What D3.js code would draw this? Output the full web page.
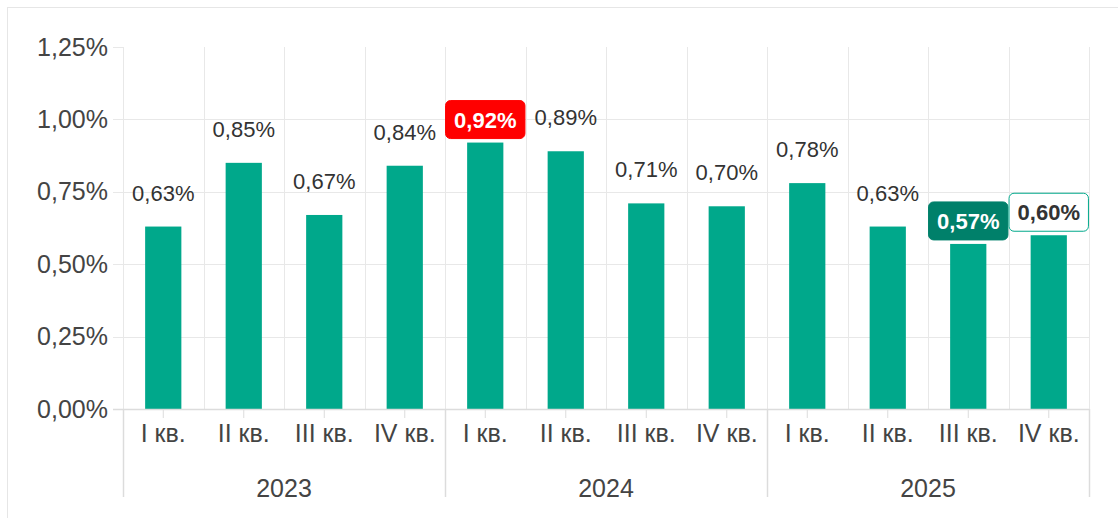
<!DOCTYPE html>
<html>
<head>
<meta charset="utf-8">
<script src="https://cdn.jsdelivr.net/npm/d3@7"></script>
<style>
  html, body { margin: 0; padding: 0; background: #fff; }
  svg { display: block; font-family: "Liberation Sans", Arial, sans-serif; }
</style>
</head>
<body>
<div id="chart"></div>
<script>
// chart data
var years = ["2023", "2024", "2025"];
var quarters = ["I кв.", "II кв.", "III кв.", "IV кв."];
var values = [0.63, 0.85, 0.67, 0.84, 0.92, 0.89, 0.71, 0.70, 0.78, 0.63, 0.57, 0.60];
var labels = ["0,63%", "0,85%", "0,67%", "0,84%", "0,92%", "0,89%", "0,71%", "0,70%", "0,78%", "0,63%", "0,57%", "0,60%"];
// which labels get a box: null = plain
var labelStyle = [null, null, null, null, "max", null, null, null, null, null, "min", "last"];
var yTicks = [0, 0.25, 0.5, 0.75, 1.0, 1.25];
var yTickLabels = ["0,00%", "0,25%", "0,50%", "0,75%", "1,00%", "1,25%"];

var W = 1118, H = 518;
var margin = {top: 47, right: 29, bottom: 109, left: 123};
var width = W - margin.left - margin.right;
var height = H - margin.top - margin.bottom;

var green = "#00a88b";
var grid = "#e8e8e8";

var svg = d3.select("#chart").append("svg")
  .attr("width", W).attr("height", H);

// outer frame
svg.append("rect")
  .attr("x", 7.5).attr("y", 7.5)
  .attr("width", W - 7).attr("height", H)
  .attr("fill", "none").attr("stroke", "#e6e6e6");

var chart = svg.append("g")
  .attr("transform", "translate(" + margin.left + "," + margin.top + ")");

// one key per bar
var keys = [];
years.forEach(function(y) {
  quarters.forEach(function(q) { keys.push(y + "|" + q); });
});

var x = d3.scaleBand().domain(keys).range([0, width]).paddingInner(0).paddingOuter(0);
var xYear = d3.scaleBand().domain(years).range([0, width]);
var y = d3.scaleLinear().domain([0, 1.25]).range([height, 0]);
var bw = x.bandwidth();

// horizontal grid (no line at top)
chart.append("g").selectAll("line")
  .data(yTicks.slice(1, -1))
  .enter().append("line")
  .attr("x1", -10).attr("x2", width)
  .attr("y1", function(d) { return Math.round(y(d)) + 0.5; })
  .attr("y2", function(d) { return Math.round(y(d)) + 0.5; })
  .attr("stroke", grid);

// short tick at top
chart.append("line")
  .attr("x1", -10).attr("x2", 0)
  .attr("y1", Math.round(y(1.25)) + 0.5).attr("y2", Math.round(y(1.25)) + 0.5)
  .attr("stroke", grid);

// vertical grid at band edges
var edges = keys.map(function(k) { return x(k); }).concat([width]);
chart.append("g").selectAll("line")
  .data(edges)
  .enter().append("line")
  .attr("x1", function(d) { return Math.round(d) + 0.5; })
  .attr("x2", function(d) { return Math.round(d) + 0.5; })
  .attr("y1", 0).attr("y2", height)
  .attr("stroke", grid);

// y axis labels
var yAxis = d3.axisLeft(y)
  .tickValues(yTicks)
  .tickFormat(function(d, i) { return yTickLabels[i]; })
  .tickSize(0).tickPadding(15);

var yg = chart.append("g").call(yAxis);
yg.select(".domain").remove();
yg.selectAll("text")
  .attr("font-size", "25px")
  .attr("font-family", "Liberation Sans, Arial, sans-serif")
  .attr("fill", "#444");

// bars
chart.append("g").selectAll("rect")
  .data(values)
  .enter().append("rect")
  .attr("x", function(d, i) { return x(keys[i]) + bw * 0.275; })
  .attr("width", bw * 0.45)
  .attr("y", function(d) { return y(d); })
  .attr("height", function(d) { return height - y(d); })
  .attr("fill", green);

// x axis line
chart.append("line")
  .attr("x1", -10).attr("x2", width)
  .attr("y1", height + 0.5).attr("y2", height + 0.5)
  .attr("stroke", "#dcdcdc").attr("stroke-width", 1.5);

// quarter axis
var xAxis = d3.axisBottom(x)
  .tickFormat(function(k) { return k.split("|")[1]; })
  .tickSize(9).tickPadding(6).tickSizeOuter(0);

var xg = chart.append("g")
  .attr("transform", "translate(0," + height + ")")
  .call(xAxis);
xg.select(".domain").remove();
xg.selectAll(".tick line").attr("stroke", "#dcdcdc");
xg.selectAll("text")
  .attr("font-size", "25px")
  .attr("font-family", "Liberation Sans, Arial, sans-serif")
  .attr("fill", "#444")
  .attr("dy", "0.72em");

// year separators
var yearEdges = years.map(function(d) { return xYear(d); }).concat([width]);
chart.append("g").selectAll("line")
  .data(yearEdges)
  .enter().append("line")
  .attr("x1", function(d) { return Math.round(d) + 0.5; })
  .attr("x2", function(d) { return Math.round(d) + 0.5; })
  .attr("y1", height).attr("y2", height + 88)
  .attr("stroke", "#dcdcdc").attr("stroke-width", 1.5);

// year labels
chart.append("g").selectAll("text")
  .data(years)
  .enter().append("text")
  .attr("x", function(d) { return xYear(d) + xYear.bandwidth() / 2; })
  .attr("y", height + 88)
  .attr("text-anchor", "middle")
  .attr("font-size", "25px")
  .attr("fill", "#444")
  .text(function(d) { return d; });

// data labels
var boxFill = {max: "#ff0000", min: "#00806a", last: "#ffffff"};
var boxText = {max: "#ffffff", min: "#ffffff", last: "#333333"};

var lbl = chart.append("g").selectAll("g")
  .data(values)
  .enter().append("g")
  .attr("transform", function(d, i) {
    return "translate(" + (x(keys[i]) + bw / 2) + "," + y(d) + ")";
  });

lbl.each(function(d, i) {
  var g = d3.select(this);
  var st = labelStyle[i];
  if (st) {
    var t = g.append("text")
      .attr("text-anchor", "middle")
      .attr("y", -15)
      .attr("font-size", "22px")
      .attr("font-weight", "bold")
      .attr("fill", boxText[st])
      .text(labels[i]);
    var bb = t.node().getBBox();
    g.insert("rect", "text")
      .attr("x", -bb.width / 2 - 8.5)
      .attr("y", -42)
      .attr("width", bb.width + 17)
      .attr("height", 38)
      .attr("rx", 5)
      .attr("fill", boxFill[st])
      .attr("stroke", st === "last" ? green : boxFill[st])
      .attr("stroke-width", 1);
  } else {
    g.append("text")
      .attr("text-anchor", "middle")
      .attr("y", -26)
      .attr("font-size", "22px")
      .attr("fill", "#333")
      .text(labels[i]);
  }
});
</script>
</body>
</html>
